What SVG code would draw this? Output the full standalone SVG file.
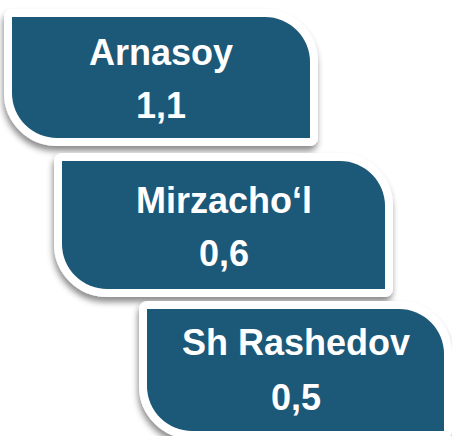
<svg xmlns="http://www.w3.org/2000/svg" width="452" height="436" viewBox="0 0 452 436">
<defs>
<filter id="sh" x="-10%" y="-10%" width="120%" height="130%">
<feDropShadow dx="-1" dy="5" stdDeviation="3" flood-color="#000" flood-opacity="0.45"/>
</filter>
<style>
.box{fill:#1E5878;stroke:#fff;stroke-width:16;stroke-linejoin:round;paint-order:stroke;filter:url(#sh)}
.t{font-family:"Liberation Sans",Arial,sans-serif;font-weight:bold;font-size:36px;fill:#fff;text-anchor:middle}
</style>
</defs>
<rect width="452" height="436" fill="#fff"/>
<g id="arnasoy">
<path class="box" d="M12,17 H265 A45,45 0 0 1 310,62 V138 H57 A45,45 0 0 1 12,93 Z"/>
<text class="t" x="161" y="65">Arnasoy</text>
<text class="t" x="161" y="118">1,1</text>
</g>
<g id="mirzachol">
<path class="box" d="M62,161 H340 A45,45 0 0 1 385,206 V289 H107 A45,45 0 0 1 62,244 Z"/>
<text class="t" x="224" y="213">Mirzacho‘l</text>
<text class="t" x="224" y="266">0,6</text>
</g>
<g id="shrashedov">
<path class="box" d="M147,309 H399 A45,45 0 0 1 444,354 V431 H192 A45,45 0 0 1 147,386 Z"/>
<text class="t" x="296" y="355">Sh Rashedov</text>
<text class="t" x="296" y="410">0,5</text>
</g>
<g id="connectors"/>
</svg>
